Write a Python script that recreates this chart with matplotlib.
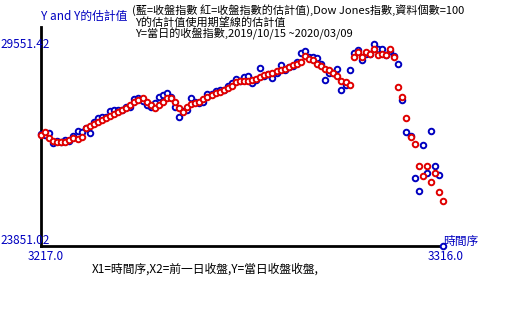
import numpy as np
import matplotlib
matplotlib.use('Agg')
import matplotlib.pyplot as plt

plt.rcParams['font.family'] = ['Noto Sans CJK TC', 'DejaVu Sans']

# time index 3217..3316 (100 trading days)
t = np.arange(3217, 3317)

# closing index (blue)
close = [27024.80, 26997.06, 27025.88, 26770.20, 26827.64, 26788.10, 26833.95, 26805.53, 26958.06, 27090.72,
         27071.46, 27186.69, 27046.23, 27347.36, 27462.11, 27492.63, 27492.56, 27674.80, 27681.24, 27691.49,
         27691.49, 27783.59, 27781.96, 28004.89, 28036.22, 27934.02, 27821.09, 27766.29, 27875.62, 28066.47,
         28121.68, 28164.00, 28051.41, 27783.04, 27502.81, 27649.78, 27677.79, 28015.06, 27909.60, 27881.72,
         27911.30, 28132.05, 28135.38, 28235.89, 28267.16, 28239.28, 28376.96, 28455.09, 28551.53, 28515.45,
         28621.39, 28645.26, 28462.14, 28538.44, 28868.80, 28634.88, 28703.38, 28583.68, 28745.09, 28956.90,
         28823.77, 28907.05, 28939.67, 29030.22, 29297.64, 29348.10, 29196.04, 29186.27, 29160.09, 28989.73,
         28535.80, 28722.85, 28734.45, 28859.44, 28256.03, 28399.81, 28807.63, 29290.85, 29379.77, 29102.51,
         29276.82, 29276.34, 29551.42, 29423.31, 29398.08, 29232.19, 29348.03, 29219.98, 28992.41, 27960.80,
         27081.36, 26957.59, 25766.64, 25409.36, 26703.32, 25917.41, 27090.86, 26121.28, 25864.78, 23851.02]

# estimated value (red)
est = [26983, 27060, 26907, 26814, 26777, 26794, 26777, 26842, 26907, 26871,
       26935, 27189, 27246, 27285, 27359, 27407, 27455, 27520, 27576, 27641,
       27689, 27754, 27830, 27923, 27971, 28036, 27923, 27830, 27754, 27830,
       27923, 28036, 28036, 27906, 27737, 27641, 27782, 27850, 27878, 27906,
       27999, 28064, 28112, 28160, 28205, 28253, 28301, 28366, 28479, 28516,
       28499, 28516, 28544, 28572, 28612, 28668, 28705, 28742, 28781, 28809,
       28846, 28894, 28950, 28996, 29043, 29204, 29137, 29091, 28996, 28922,
       28854, 28809, 28733, 28657, 28507, 28479, 28394, 29185, 29326, 29185,
       29326, 29269, 29410, 29241, 29269, 29241, 29410, 29185, 28338, 28056,
       27463, 26927, 26729, 26109, 25826, 26109, 25657, 25911, 25375, 25121]

ymin, ymax = 23851.02, 29551.42
W, H = 520, 315
blue = '#0000C0'
red = '#E00000'

fig = plt.figure(figsize=(W / 100, H / 100), dpi=100)
ax = fig.add_axes([41 / W, 1 - 246 / H, 402 / W, 202 / H])
ax.set_xlim(3217, 3316)
ax.set_ylim(ymin, ymax)
ax.axis('off')

# axis lines
ax.plot([0, 0], [0, 1.085], transform=ax.transAxes, color='black', lw=2, clip_on=False)
ax.plot([0, 1], [0, 0], transform=ax.transAxes, color='black', lw=2, clip_on=False)

ax.plot(t, close, 'o', ls='none', ms=4.0, mfc='white', mec=blue, mew=1.4, clip_on=False)
ax.plot(t, est, 'o', ls='none', ms=4.0, mfc='white', mec=red, mew=1.4, clip_on=False)

def ftxt(x, y, s, size=8.5, **kw):
    fig.text(x / W, 1 - y / H, s, fontsize=size, va='center', **kw)

ftxt(41, 16, 'Y and Y的估計值', color=blue)
ftxt(132, 10, '(藍=收盤指數 紅=收盤指數的估計值),Dow Jones指數,資料個數=100', size=8, color='black')
ftxt(135, 22, 'Y的估計值使用期望線的估計值', size=8, color='black')
ftxt(135, 34, 'Y=當日的收盤指數,2019/10/15 ~2020/03/09', size=8, color='black')
ftxt(0, 44, '29551.42', color=blue)
ftxt(0, 241, '23851.02', color=blue)
ftxt(28, 257, '3217.0', color=blue)
ftxt(428, 257, '3316.0', color=blue)
ftxt(443, 241, '時間序', color=blue)
ftxt(92, 269, 'X1=時間序,X2=前一日收盤,Y=當日收盤收盤,', color='black')

fig.savefig('out.png', dpi=100)
